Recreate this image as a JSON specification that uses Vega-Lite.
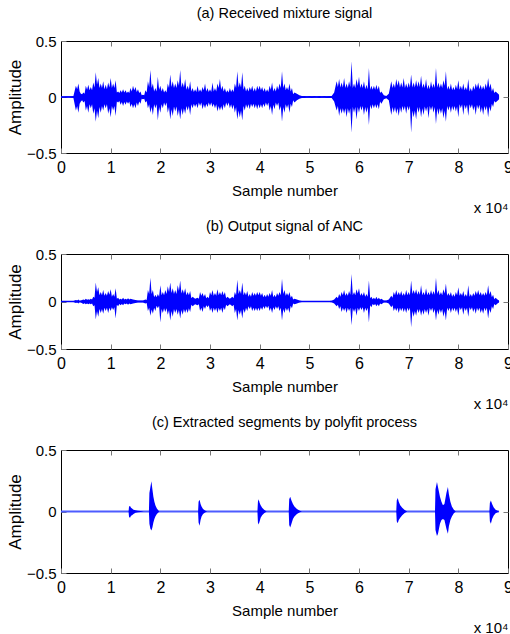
{
  "$schema": "https://vega.github.io/schema/vega-lite/v6.json",
  "background": "white",
  "padding": {"left": 5, "top": 5, "right": 0, "bottom": 0},
  "spacing": 2,
  "datasets": {
    "a": [
      {"s":0,"hi":0.005,"lo":-0.005},{"s":500,"hi":0.005,"lo":-0.005},{"s":1000,"hi":0.006,"lo":-0.006},{"s":1500,"hi":0.006,"lo":-0.005},{"s":2000,"hi":0.007,"lo":-0.006},{"s":2500,"hi":0.01,"lo":-0.01},
      {"s":3000,"hi":0.1,"lo":-0.12},{"s":3500,"hi":0.12,"lo":-0.14},{"s":4000,"hi":0.03,"lo":-0.04},{"s":4500,"hi":0.04,"lo":-0.05},{"s":5000,"hi":0.1,"lo":-0.12},{"s":5500,"hi":0.11,"lo":-0.14},
      {"s":6000,"hi":0.09,"lo":-0.1},{"s":6500,"hi":0.13,"lo":-0.15},{"s":7000,"hi":0.22,"lo":-0.22},{"s":7500,"hi":0.17,"lo":-0.19},{"s":8000,"hi":0.12,"lo":-0.14},{"s":8500,"hi":0.14,"lo":-0.12},
      {"s":9000,"hi":0.11,"lo":-0.1},{"s":9500,"hi":0.13,"lo":-0.15},{"s":10000,"hi":0.17,"lo":-0.18},{"s":10500,"hi":0.12,"lo":-0.12},{"s":11000,"hi":0.15,"lo":-0.17},{"s":11500,"hi":0.05,"lo":-0.05},
      {"s":12000,"hi":0.06,"lo":-0.07},{"s":12500,"hi":0.07,"lo":-0.08},{"s":13000,"hi":0.06,"lo":-0.07},{"s":13500,"hi":0.05,"lo":-0.06},{"s":14000,"hi":0.08,"lo":-0.09},{"s":14500,"hi":0.1,"lo":-0.1},
      {"s":15000,"hi":0.09,"lo":-0.1},{"s":15500,"hi":0.07,"lo":-0.08},{"s":16000,"hi":0.05,"lo":-0.06},{"s":16500,"hi":0.02,"lo":-0.02},{"s":17000,"hi":0.06,"lo":-0.05},{"s":17500,"hi":0.14,"lo":-0.1},
      {"s":18000,"hi":0.24,"lo":-0.14},{"s":18500,"hi":0.12,"lo":-0.16},{"s":19000,"hi":0.08,"lo":-0.1},{"s":19500,"hi":0.18,"lo":-0.21},{"s":20000,"hi":0.1,"lo":-0.14},{"s":20500,"hi":0.08,"lo":-0.1},
      {"s":21000,"hi":0.06,"lo":-0.08},{"s":21500,"hi":0.12,"lo":-0.14},{"s":22000,"hi":0.2,"lo":-0.2},{"s":22500,"hi":0.14,"lo":-0.17},{"s":23000,"hi":0.12,"lo":-0.13},{"s":23500,"hi":0.15,"lo":-0.17},
      {"s":24000,"hi":0.24,"lo":-0.2},{"s":24500,"hi":0.13,"lo":-0.16},{"s":25000,"hi":0.16,"lo":-0.15},{"s":25500,"hi":0.1,"lo":-0.12},{"s":26000,"hi":0.14,"lo":-0.16},{"s":26500,"hi":0.08,"lo":-0.1},
      {"s":27000,"hi":0.07,"lo":-0.09},{"s":27500,"hi":0.1,"lo":-0.1},{"s":28000,"hi":0.07,"lo":-0.08},{"s":28500,"hi":0.09,"lo":-0.11},{"s":29000,"hi":0.12,"lo":-0.1},{"s":29500,"hi":0.08,"lo":-0.09},
      {"s":30000,"hi":0.07,"lo":-0.08},{"s":30500,"hi":0.13,"lo":-0.09},{"s":31000,"hi":0.08,"lo":-0.1},{"s":31500,"hi":0.12,"lo":-0.13},{"s":32000,"hi":0.16,"lo":-0.12},{"s":32500,"hi":0.1,"lo":-0.12},
      {"s":33000,"hi":0.08,"lo":-0.1},{"s":33500,"hi":0.06,"lo":-0.08},{"s":34000,"hi":0.08,"lo":-0.1},{"s":34500,"hi":0.07,"lo":-0.11},{"s":35000,"hi":0.12,"lo":-0.14},{"s":35500,"hi":0.23,"lo":-0.2},
      {"s":36000,"hi":0.13,"lo":-0.18},{"s":36500,"hi":0.22,"lo":-0.21},{"s":37000,"hi":0.1,"lo":-0.12},{"s":37500,"hi":0.08,"lo":-0.1},{"s":38000,"hi":0.09,"lo":-0.11},{"s":38500,"hi":0.1,"lo":-0.09},
      {"s":39000,"hi":0.08,"lo":-0.1},{"s":39500,"hi":0.1,"lo":-0.11},{"s":40000,"hi":0.1,"lo":-0.1},{"s":40500,"hi":0.09,"lo":-0.1},{"s":41000,"hi":0.08,"lo":-0.09},{"s":41500,"hi":0.07,"lo":-0.08},
      {"s":42000,"hi":0.1,"lo":-0.12},{"s":42500,"hi":0.13,"lo":-0.16},{"s":43000,"hi":0.08,"lo":-0.11},{"s":43500,"hi":0.1,"lo":-0.08},{"s":44000,"hi":0.12,"lo":-0.12},{"s":44500,"hi":0.23,"lo":-0.22},
      {"s":45000,"hi":0.12,"lo":-0.14},{"s":45500,"hi":0.09,"lo":-0.1},{"s":46000,"hi":0.12,"lo":-0.14},{"s":46500,"hi":0.08,"lo":-0.09},{"s":47000,"hi":0.04,"lo":-0.05},{"s":47500,"hi":0.03,"lo":-0.03},
      {"s":48000,"hi":0.015,"lo":-0.015},{"s":48500,"hi":0.01,"lo":-0.01},{"s":49000,"hi":0.008,"lo":-0.008},{"s":49500,"hi":0.007,"lo":-0.007},{"s":50000,"hi":0.008,"lo":-0.007},{"s":50500,"hi":0.007,"lo":-0.008},
      {"s":51000,"hi":0.008,"lo":-0.007},{"s":51500,"hi":0.007,"lo":-0.007},{"s":52000,"hi":0.008,"lo":-0.008},{"s":52500,"hi":0.007,"lo":-0.007},{"s":53000,"hi":0.008,"lo":-0.007},{"s":53500,"hi":0.007,"lo":-0.008},
      {"s":54000,"hi":0.008,"lo":-0.008},{"s":54500,"hi":0.01,"lo":-0.01},{"s":55000,"hi":0.04,"lo":-0.04},{"s":55500,"hi":0.14,"lo":-0.12},{"s":56000,"hi":0.16,"lo":-0.17},{"s":56500,"hi":0.13,"lo":-0.15},
      {"s":57000,"hi":0.17,"lo":-0.15},{"s":57500,"hi":0.12,"lo":-0.18},{"s":58000,"hi":0.14,"lo":-0.15},{"s":58500,"hi":0.32,"lo":-0.32},{"s":59000,"hi":0.12,"lo":-0.14},{"s":59500,"hi":0.16,"lo":-0.2},
      {"s":60000,"hi":0.18,"lo":-0.14},{"s":60500,"hi":0.12,"lo":-0.12},{"s":61000,"hi":0.14,"lo":-0.16},{"s":61500,"hi":0.11,"lo":-0.14},{"s":62000,"hi":0.26,"lo":-0.25},{"s":62500,"hi":0.1,"lo":-0.11},
      {"s":63000,"hi":0.1,"lo":-0.1},{"s":63500,"hi":0.11,"lo":-0.1},{"s":64000,"hi":0.1,"lo":-0.11},{"s":64500,"hi":0.05,"lo":-0.06},{"s":65000,"hi":0.015,"lo":-0.02},{"s":65500,"hi":0.01,"lo":-0.012},
      {"s":66000,"hi":0.03,"lo":-0.03},{"s":66500,"hi":0.14,"lo":-0.16},{"s":67000,"hi":0.12,"lo":-0.14},{"s":67500,"hi":0.16,"lo":-0.15},{"s":68000,"hi":0.15,"lo":-0.17},{"s":68500,"hi":0.13,"lo":-0.14},
      {"s":69000,"hi":0.17,"lo":-0.12},{"s":69500,"hi":0.12,"lo":-0.15},{"s":70000,"hi":0.13,"lo":-0.12},{"s":70500,"hi":0.2,"lo":-0.32},{"s":71000,"hi":0.13,"lo":-0.18},{"s":71500,"hi":0.15,"lo":-0.2},
      {"s":72000,"hi":0.14,"lo":-0.14},{"s":72500,"hi":0.19,"lo":-0.18},{"s":73000,"hi":0.12,"lo":-0.16},{"s":73500,"hi":0.16,"lo":-0.13},{"s":74000,"hi":0.11,"lo":-0.19},{"s":74500,"hi":0.14,"lo":-0.12},
      {"s":75000,"hi":0.12,"lo":-0.14},{"s":75500,"hi":0.26,"lo":-0.24},{"s":76000,"hi":0.13,"lo":-0.16},{"s":76500,"hi":0.12,"lo":-0.15},{"s":77000,"hi":0.15,"lo":-0.19},{"s":77500,"hi":0.23,"lo":-0.22},
      {"s":78000,"hi":0.1,"lo":-0.12},{"s":78500,"hi":0.12,"lo":-0.14},{"s":79000,"hi":0.09,"lo":-0.12},{"s":79500,"hi":0.11,"lo":-0.13},{"s":80000,"hi":0.15,"lo":-0.18},{"s":80500,"hi":0.1,"lo":-0.1},
      {"s":81000,"hi":0.12,"lo":-0.16},{"s":81500,"hi":0.09,"lo":-0.11},{"s":82000,"hi":0.16,"lo":-0.17},{"s":82500,"hi":0.08,"lo":-0.1},{"s":83000,"hi":0.1,"lo":-0.12},{"s":83500,"hi":0.12,"lo":-0.16},
      {"s":84000,"hi":0.13,"lo":-0.11},{"s":84500,"hi":0.11,"lo":-0.14},{"s":85000,"hi":0.1,"lo":-0.16},{"s":85500,"hi":0.12,"lo":-0.12},{"s":86000,"hi":0.17,"lo":-0.18},{"s":86500,"hi":0.12,"lo":-0.13},
      {"s":87000,"hi":0.08,"lo":-0.09},{"s":87500,"hi":0.05,"lo":-0.05},{"s":88000,"hi":0.03,"lo":-0.03},{"s":88200,"hi":0.02,"lo":-0.02},
      {"s":3250,"hi":0.07,"lo":-0.08},{"s":3750,"hi":0.05,"lo":-0.06},{"s":4250,"hi":0.025,"lo":-0.03},{"s":4750,"hi":0.03,"lo":-0.035},{"s":5250,"hi":0.065,"lo":-0.08},{"s":5750,"hi":0.06,"lo":-0.065},
      {"s":6250,"hi":0.06,"lo":-0.065},{"s":6750,"hi":0.085,"lo":-0.1},{"s":7250,"hi":0.11,"lo":-0.12},{"s":7750,"hi":0.08,"lo":-0.09},{"s":8250,"hi":0.08,"lo":-0.08},{"s":8750,"hi":0.07,"lo":-0.065},
      {"s":9250,"hi":0.07,"lo":-0.065},{"s":9750,"hi":0.085,"lo":-0.1},{"s":10250,"hi":0.08,"lo":-0.08},{"s":10750,"hi":0.08,"lo":-0.08},{"s":11250,"hi":0.04,"lo":-0.04},{"s":11750,"hi":0.035,"lo":-0.035},
      {"s":12250,"hi":0.04,"lo":-0.045},{"s":12750,"hi":0.04,"lo":-0.045},{"s":13250,"hi":0.035,"lo":-0.04},{"s":13750,"hi":0.035,"lo":-0.04},{"s":14250,"hi":0.05,"lo":-0.06},{"s":14750,"hi":0.06,"lo":-0.065},
      {"s":15250,"hi":0.045,"lo":-0.05},{"s":15750,"hi":0.035,"lo":-0.04},{"s":16250,"hi":0.015,"lo":-0.015},{"s":16750,"hi":0.015,"lo":-0.015},{"s":17250,"hi":0.04,"lo":-0.035},{"s":17750,"hi":0.09,"lo":-0.065},
      {"s":18250,"hi":0.08,"lo":-0.09},{"s":18750,"hi":0.05,"lo":-0.065},{"s":19250,"hi":0.05,"lo":-0.065},{"s":19750,"hi":0.065,"lo":-0.09},{"s":20250,"hi":0.05,"lo":-0.065},{"s":20750,"hi":0.04,"lo":-0.05},
      {"s":21250,"hi":0.04,"lo":-0.05},{"s":21750,"hi":0.08,"lo":-0.09},{"s":22250,"hi":0.09,"lo":-0.11},{"s":22750,"hi":0.08,"lo":-0.085},{"s":23250,"hi":0.08,"lo":-0.085},{"s":23750,"hi":0.1,"lo":-0.11},
      {"s":24250,"hi":0.085,"lo":-0.1},{"s":24750,"hi":0.085,"lo":-0.1},{"s":25250,"hi":0.065,"lo":-0.08},{"s":25750,"hi":0.065,"lo":-0.08},{"s":26250,"hi":0.05,"lo":-0.065},{"s":26750,"hi":0.045,"lo":-0.06},
      {"s":27250,"hi":0.045,"lo":-0.06},{"s":27750,"hi":0.045,"lo":-0.05},{"s":28250,"hi":0.045,"lo":-0.05},{"s":28750,"hi":0.06,"lo":-0.065},{"s":29250,"hi":0.05,"lo":-0.06},{"s":29750,"hi":0.045,"lo":-0.05},
      {"s":30250,"hi":0.045,"lo":-0.05},{"s":30750,"hi":0.05,"lo":-0.06},{"s":31250,"hi":0.05,"lo":-0.065},{"s":31750,"hi":0.08,"lo":-0.08},{"s":32250,"hi":0.065,"lo":-0.08},{"s":32750,"hi":0.05,"lo":-0.065},
      {"s":33250,"hi":0.04,"lo":-0.05},{"s":33750,"hi":0.04,"lo":-0.05},{"s":34250,"hi":0.045,"lo":-0.065},{"s":34750,"hi":0.045,"lo":-0.07},{"s":35250,"hi":0.08,"lo":-0.09},{"s":35750,"hi":0.085,"lo":-0.12},
      {"s":36250,"hi":0.085,"lo":-0.12},{"s":36750,"hi":0.065,"lo":-0.08},{"s":37250,"hi":0.05,"lo":-0.065},{"s":37750,"hi":0.05,"lo":-0.065},{"s":38250,"hi":0.06,"lo":-0.06},{"s":38750,"hi":0.05,"lo":-0.06},
      {"s":39250,"hi":0.05,"lo":-0.065},{"s":39750,"hi":0.065,"lo":-0.065},{"s":40250,"hi":0.06,"lo":-0.065},{"s":40750,"hi":0.05,"lo":-0.06},{"s":41250,"hi":0.045,"lo":-0.05},{"s":41750,"hi":0.045,"lo":-0.05},
      {"s":42250,"hi":0.065,"lo":-0.08},{"s":42750,"hi":0.05,"lo":-0.07},{"s":43250,"hi":0.05,"lo":-0.05},{"s":43750,"hi":0.065,"lo":-0.05},{"s":44250,"hi":0.08,"lo":-0.08},{"s":44750,"hi":0.08,"lo":-0.09},
      {"s":45250,"hi":0.06,"lo":-0.065},{"s":45750,"hi":0.06,"lo":-0.065},{"s":46250,"hi":0.05,"lo":-0.06},{"s":46750,"hi":0.025,"lo":-0.03},
      {"s":55750,"hi":0.09,"lo":-0.08},{"s":56250,"hi":0.085,"lo":-0.1},{"s":56750,"hi":0.085,"lo":-0.1},{"s":57250,"hi":0.08,"lo":-0.1},{"s":57750,"hi":0.08,"lo":-0.1},{"s":58250,"hi":0.09,"lo":-0.1},
      {"s":58750,"hi":0.08,"lo":-0.09},{"s":59250,"hi":0.08,"lo":-0.09},{"s":59750,"hi":0.1,"lo":-0.09},{"s":60250,"hi":0.08,"lo":-0.08},{"s":60750,"hi":0.08,"lo":-0.08},{"s":61250,"hi":0.07,"lo":-0.09},
      {"s":61750,"hi":0.07,"lo":-0.09},{"s":62250,"hi":0.065,"lo":-0.07},{"s":62750,"hi":0.065,"lo":-0.065},{"s":63250,"hi":0.065,"lo":-0.065},{"s":63750,"hi":0.065,"lo":-0.065},{"s":64250,"hi":0.035,"lo":-0.04},
      {"s":66750,"hi":0.08,"lo":-0.09},{"s":67250,"hi":0.08,"lo":-0.09},{"s":67750,"hi":0.1,"lo":-0.1},{"s":68250,"hi":0.085,"lo":-0.09},{"s":68750,"hi":0.085,"lo":-0.08},{"s":69250,"hi":0.08,"lo":-0.08},
      {"s":69750,"hi":0.08,"lo":-0.08},{"s":70250,"hi":0.085,"lo":-0.08},{"s":70750,"hi":0.085,"lo":-0.12},{"s":71250,"hi":0.085,"lo":-0.12},{"s":71750,"hi":0.09,"lo":-0.09},{"s":72250,"hi":0.09,"lo":-0.09},
      {"s":72750,"hi":0.08,"lo":-0.1},{"s":73250,"hi":0.08,"lo":-0.085},{"s":73750,"hi":0.07,"lo":-0.085},{"s":74250,"hi":0.07,"lo":-0.08},{"s":74750,"hi":0.08,"lo":-0.08},{"s":75250,"hi":0.08,"lo":-0.09},
      {"s":75750,"hi":0.085,"lo":-0.1},{"s":76250,"hi":0.08,"lo":-0.1},{"s":76750,"hi":0.08,"lo":-0.1},{"s":77250,"hi":0.1,"lo":-0.12},{"s":77750,"hi":0.065,"lo":-0.08},{"s":78250,"hi":0.065,"lo":-0.08},
      {"s":78750,"hi":0.06,"lo":-0.08},{"s":79250,"hi":0.06,"lo":-0.08},{"s":79750,"hi":0.07,"lo":-0.085},{"s":80250,"hi":0.065,"lo":-0.065},{"s":80750,"hi":0.065,"lo":-0.065},{"s":81250,"hi":0.06,"lo":-0.07},
      {"s":81750,"hi":0.06,"lo":-0.07},{"s":82250,"hi":0.05,"lo":-0.065},{"s":82750,"hi":0.05,"lo":-0.065},{"s":83250,"hi":0.065,"lo":-0.08},{"s":83750,"hi":0.08,"lo":-0.07},{"s":84250,"hi":0.07,"lo":-0.07},
      {"s":84750,"hi":0.065,"lo":-0.09},{"s":85250,"hi":0.065,"lo":-0.08},{"s":85750,"hi":0.08,"lo":-0.08},{"s":86250,"hi":0.08,"lo":-0.085},{"s":86750,"hi":0.05,"lo":-0.06},{"s":87250,"hi":0.035,"lo":-0.035}
    ],
    "b": [
      {"s":0,"hi":0.004,"lo":-0.004},{"s":500,"hi":0.004,"lo":-0.004},{"s":1000,"hi":0.004,"lo":-0.004},{"s":1500,"hi":0.004,"lo":-0.004},{"s":2000,"hi":0.004,"lo":-0.004},{"s":2500,"hi":0.005,"lo":-0.005},
      {"s":3000,"hi":0.015,"lo":-0.015},{"s":3500,"hi":0.02,"lo":-0.02},{"s":4000,"hi":0.01,"lo":-0.01},{"s":4500,"hi":0.02,"lo":-0.025},{"s":5000,"hi":0.03,"lo":-0.03},{"s":5500,"hi":0.025,"lo":-0.03},
      {"s":6000,"hi":0.03,"lo":-0.03},{"s":6500,"hi":0.05,"lo":-0.05},{"s":7000,"hi":0.2,"lo":-0.19},{"s":7500,"hi":0.15,"lo":-0.16},{"s":8000,"hi":0.1,"lo":-0.12},{"s":8500,"hi":0.12,"lo":-0.13},
      {"s":9000,"hi":0.09,"lo":-0.1},{"s":9500,"hi":0.11,"lo":-0.12},{"s":10000,"hi":0.13,"lo":-0.1},{"s":10500,"hi":0.08,"lo":-0.09},{"s":11000,"hi":0.14,"lo":-0.18},{"s":11500,"hi":0.04,"lo":-0.05},
      {"s":12000,"hi":0.03,"lo":-0.04},{"s":12500,"hi":0.04,"lo":-0.04},{"s":13000,"hi":0.03,"lo":-0.03},{"s":13500,"hi":0.035,"lo":-0.035},{"s":14000,"hi":0.03,"lo":-0.03},{"s":14500,"hi":0.02,"lo":-0.02},
      {"s":15000,"hi":0.015,"lo":-0.015},{"s":15500,"hi":0.01,"lo":-0.01},{"s":16000,"hi":0.01,"lo":-0.01},{"s":16500,"hi":0.01,"lo":-0.01},{"s":17000,"hi":0.02,"lo":-0.02},{"s":17500,"hi":0.12,"lo":-0.1},
      {"s":18000,"hi":0.25,"lo":-0.15},{"s":18500,"hi":0.12,"lo":-0.13},{"s":19000,"hi":0.07,"lo":-0.1},{"s":19500,"hi":0.08,"lo":-0.07},{"s":20000,"hi":0.17,"lo":-0.22},{"s":20500,"hi":0.1,"lo":-0.12},
      {"s":21000,"hi":0.12,"lo":-0.11},{"s":21500,"hi":0.16,"lo":-0.14},{"s":22000,"hi":0.2,"lo":-0.2},{"s":22500,"hi":0.14,"lo":-0.16},{"s":23000,"hi":0.12,"lo":-0.12},{"s":23500,"hi":0.17,"lo":-0.14},
      {"s":24000,"hi":0.22,"lo":-0.18},{"s":24500,"hi":0.13,"lo":-0.14},{"s":25000,"hi":0.14,"lo":-0.12},{"s":25500,"hi":0.1,"lo":-0.12},{"s":26000,"hi":0.11,"lo":-0.11},{"s":26500,"hi":0.05,"lo":-0.05},
      {"s":27000,"hi":0.03,"lo":-0.03},{"s":27500,"hi":0.04,"lo":-0.04},{"s":28000,"hi":0.1,"lo":-0.1},{"s":28500,"hi":0.09,"lo":-0.11},{"s":29000,"hi":0.08,"lo":-0.08},{"s":29500,"hi":0.05,"lo":-0.06},
      {"s":30000,"hi":0.1,"lo":-0.1},{"s":30500,"hi":0.12,"lo":-0.12},{"s":31000,"hi":0.09,"lo":-0.1},{"s":31500,"hi":0.13,"lo":-0.12},{"s":32000,"hi":0.1,"lo":-0.1},{"s":32500,"hi":0.11,"lo":-0.12},
      {"s":33000,"hi":0.1,"lo":-0.09},{"s":33500,"hi":0.05,"lo":-0.05},{"s":34000,"hi":0.03,"lo":-0.03},{"s":34500,"hi":0.05,"lo":-0.05},{"s":35000,"hi":0.1,"lo":-0.12},{"s":35500,"hi":0.23,"lo":-0.2},
      {"s":36000,"hi":0.12,"lo":-0.14},{"s":36500,"hi":0.2,"lo":-0.18},{"s":37000,"hi":0.1,"lo":-0.12},{"s":37500,"hi":0.11,"lo":-0.1},{"s":38000,"hi":0.08,"lo":-0.08},{"s":38500,"hi":0.1,"lo":-0.1},
      {"s":39000,"hi":0.09,"lo":-0.1},{"s":39500,"hi":0.1,"lo":-0.1},{"s":40000,"hi":0.1,"lo":-0.1},{"s":40500,"hi":0.09,"lo":-0.09},{"s":41000,"hi":0.07,"lo":-0.08},{"s":41500,"hi":0.08,"lo":-0.07},
      {"s":42000,"hi":0.09,"lo":-0.1},{"s":42500,"hi":0.12,"lo":-0.12},{"s":43000,"hi":0.07,"lo":-0.09},{"s":43500,"hi":0.09,"lo":-0.08},{"s":44000,"hi":0.1,"lo":-0.1},{"s":44500,"hi":0.24,"lo":-0.2},
      {"s":45000,"hi":0.12,"lo":-0.12},{"s":45500,"hi":0.09,"lo":-0.1},{"s":46000,"hi":0.1,"lo":-0.12},{"s":46500,"hi":0.06,"lo":-0.07},{"s":47000,"hi":0.03,"lo":-0.03},{"s":47500,"hi":0.02,"lo":-0.02},
      {"s":48000,"hi":0.01,"lo":-0.01},{"s":48500,"hi":0.005,"lo":-0.005},{"s":49000,"hi":0.004,"lo":-0.004},{"s":50000,"hi":0.004,"lo":-0.004},{"s":51000,"hi":0.004,"lo":-0.004},{"s":52000,"hi":0.004,"lo":-0.004},
      {"s":53000,"hi":0.004,"lo":-0.004},{"s":54000,"hi":0.005,"lo":-0.005},{"s":54500,"hi":0.008,"lo":-0.008},{"s":55000,"hi":0.02,"lo":-0.02},{"s":55500,"hi":0.05,"lo":-0.05},{"s":56000,"hi":0.08,"lo":-0.08},
      {"s":56500,"hi":0.1,"lo":-0.11},{"s":57000,"hi":0.12,"lo":-0.1},{"s":57500,"hi":0.09,"lo":-0.12},{"s":58000,"hi":0.11,"lo":-0.1},{"s":58500,"hi":0.29,"lo":-0.25},{"s":59000,"hi":0.1,"lo":-0.11},
      {"s":59500,"hi":0.13,"lo":-0.15},{"s":60000,"hi":0.14,"lo":-0.1},{"s":60500,"hi":0.09,"lo":-0.09},{"s":61000,"hi":0.1,"lo":-0.12},{"s":61500,"hi":0.08,"lo":-0.1},{"s":62000,"hi":0.22,"lo":-0.22},
      {"s":62500,"hi":0.05,"lo":-0.06},{"s":63000,"hi":0.04,"lo":-0.04},{"s":63500,"hi":0.05,"lo":-0.05},{"s":64000,"hi":0.04,"lo":-0.05},{"s":64500,"hi":0.03,"lo":-0.03},{"s":65000,"hi":0.01,"lo":-0.01},
      {"s":65500,"hi":0.01,"lo":-0.01},{"s":66000,"hi":0.02,"lo":-0.02},{"s":66500,"hi":0.06,"lo":-0.06},{"s":67000,"hi":0.1,"lo":-0.1},{"s":67500,"hi":0.12,"lo":-0.1},{"s":68000,"hi":0.1,"lo":-0.12},
      {"s":68500,"hi":0.11,"lo":-0.1},{"s":69000,"hi":0.09,"lo":-0.11},{"s":69500,"hi":0.12,"lo":-0.12},{"s":70000,"hi":0.1,"lo":-0.1},{"s":70500,"hi":0.22,"lo":-0.27},{"s":71000,"hi":0.12,"lo":-0.16},
      {"s":71500,"hi":0.13,"lo":-0.15},{"s":72000,"hi":0.11,"lo":-0.12},{"s":72500,"hi":0.17,"lo":-0.15},{"s":73000,"hi":0.1,"lo":-0.14},{"s":73500,"hi":0.14,"lo":-0.12},{"s":74000,"hi":0.1,"lo":-0.15},
      {"s":74500,"hi":0.12,"lo":-0.1},{"s":75000,"hi":0.11,"lo":-0.12},{"s":75500,"hi":0.25,"lo":-0.2},{"s":76000,"hi":0.12,"lo":-0.14},{"s":76500,"hi":0.1,"lo":-0.12},{"s":77000,"hi":0.13,"lo":-0.16},
      {"s":77500,"hi":0.19,"lo":-0.2},{"s":78000,"hi":0.09,"lo":-0.1},{"s":78500,"hi":0.1,"lo":-0.12},{"s":79000,"hi":0.08,"lo":-0.1},{"s":79500,"hi":0.1,"lo":-0.11},{"s":80000,"hi":0.15,"lo":-0.15},
      {"s":80500,"hi":0.09,"lo":-0.09},{"s":81000,"hi":0.11,"lo":-0.14},{"s":81500,"hi":0.08,"lo":-0.1},{"s":82000,"hi":0.17,"lo":-0.16},{"s":82500,"hi":0.08,"lo":-0.09},{"s":83000,"hi":0.09,"lo":-0.11},
      {"s":83500,"hi":0.11,"lo":-0.13},{"s":84000,"hi":0.12,"lo":-0.1},{"s":84500,"hi":0.1,"lo":-0.12},{"s":85000,"hi":0.09,"lo":-0.13},{"s":85500,"hi":0.1,"lo":-0.1},{"s":86000,"hi":0.17,"lo":-0.18},
      {"s":86500,"hi":0.11,"lo":-0.12},{"s":87000,"hi":0.07,"lo":-0.08},{"s":87500,"hi":0.04,"lo":-0.04},{"s":88000,"hi":0.015,"lo":-0.015},{"s":88200,"hi":0.01,"lo":-0.01},
      {"s":3250,"hi":0.01,"lo":-0.01},{"s":3750,"hi":0.008,"lo":-0.008},{"s":4750,"hi":0.015,"lo":-0.018},{"s":5250,"hi":0.018,"lo":-0.02},{"s":5750,"hi":0.018,"lo":-0.02},{"s":6250,"hi":0.02,"lo":-0.02},
      {"s":6750,"hi":0.04,"lo":-0.04},{"s":7250,"hi":0.1,"lo":-0.1},{"s":7750,"hi":0.065,"lo":-0.08},{"s":8250,"hi":0.065,"lo":-0.08},{"s":8750,"hi":0.06,"lo":-0.065},{"s":9250,"hi":0.06,"lo":-0.065},
      {"s":9750,"hi":0.07,"lo":-0.065},{"s":10250,"hi":0.05,"lo":-0.06},{"s":10750,"hi":0.05,"lo":-0.06},{"s":11250,"hi":0.03,"lo":-0.035},{"s":11750,"hi":0.02,"lo":-0.025},{"s":12250,"hi":0.02,"lo":-0.025},
      {"s":12750,"hi":0.02,"lo":-0.02},{"s":13250,"hi":0.02,"lo":-0.02},{"s":13750,"hi":0.02,"lo":-0.02},{"s":17250,"hi":0.015,"lo":-0.015},{"s":17750,"hi":0.08,"lo":-0.065},{"s":18250,"hi":0.08,"lo":-0.085},
      {"s":18750,"hi":0.045,"lo":-0.065},{"s":19250,"hi":0.045,"lo":-0.045},{"s":19750,"hi":0.05,"lo":-0.045},{"s":20250,"hi":0.065,"lo":-0.08},{"s":20750,"hi":0.065,"lo":-0.07},{"s":21250,"hi":0.08,"lo":-0.07},
      {"s":21750,"hi":0.1,"lo":-0.09},{"s":22250,"hi":0.09,"lo":-0.1},{"s":22750,"hi":0.08,"lo":-0.08},{"s":23250,"hi":0.08,"lo":-0.08},{"s":23750,"hi":0.11,"lo":-0.09},{"s":24250,"hi":0.085,"lo":-0.09},
      {"s":24750,"hi":0.085,"lo":-0.08},{"s":25250,"hi":0.065,"lo":-0.08},{"s":25750,"hi":0.065,"lo":-0.07},{"s":26250,"hi":0.035,"lo":-0.035},{"s":27750,"hi":0.03,"lo":-0.03},{"s":28250,"hi":0.06,"lo":-0.065},
      {"s":28750,"hi":0.05,"lo":-0.05},{"s":29250,"hi":0.035,"lo":-0.04},{"s":29750,"hi":0.035,"lo":-0.04},{"s":30250,"hi":0.065,"lo":-0.065},{"s":30750,"hi":0.06,"lo":-0.065},{"s":31250,"hi":0.06,"lo":-0.065},
      {"s":31750,"hi":0.065,"lo":-0.065},{"s":32250,"hi":0.065,"lo":-0.065},{"s":32750,"hi":0.065,"lo":-0.06},{"s":33250,"hi":0.035,"lo":-0.035},{"s":34750,"hi":0.035,"lo":-0.035},{"s":35250,"hi":0.065,"lo":-0.08},
      {"s":35750,"hi":0.08,"lo":-0.09},{"s":36250,"hi":0.08,"lo":-0.09},{"s":36750,"hi":0.065,"lo":-0.08},{"s":37250,"hi":0.065,"lo":-0.065},{"s":37750,"hi":0.05,"lo":-0.05},{"s":38250,"hi":0.05,"lo":-0.05},
      {"s":38750,"hi":0.06,"lo":-0.065},{"s":39250,"hi":0.06,"lo":-0.065},{"s":39750,"hi":0.065,"lo":-0.065},{"s":40250,"hi":0.06,"lo":-0.06},{"s":40750,"hi":0.045,"lo":-0.05},{"s":41250,"hi":0.045,"lo":-0.045},
      {"s":41750,"hi":0.05,"lo":-0.045},{"s":42250,"hi":0.06,"lo":-0.065},{"s":42750,"hi":0.045,"lo":-0.06},{"s":43250,"hi":0.045,"lo":-0.05},{"s":43750,"hi":0.06,"lo":-0.05},{"s":44250,"hi":0.065,"lo":-0.065},
      {"s":44750,"hi":0.08,"lo":-0.08},{"s":45250,"hi":0.06,"lo":-0.065},{"s":45750,"hi":0.06,"lo":-0.065},{"s":46250,"hi":0.04,"lo":-0.045},{"s":46750,"hi":0.02,"lo":-0.02},
      {"s":55750,"hi":0.035,"lo":-0.035},{"s":56250,"hi":0.05,"lo":-0.05},{"s":56750,"hi":0.065,"lo":-0.065},{"s":57250,"hi":0.06,"lo":-0.065},{"s":57750,"hi":0.06,"lo":-0.065},{"s":58250,"hi":0.07,"lo":-0.065},
      {"s":58750,"hi":0.065,"lo":-0.07},{"s":59250,"hi":0.065,"lo":-0.07},{"s":59750,"hi":0.085,"lo":-0.065},{"s":60250,"hi":0.06,"lo":-0.06},{"s":60750,"hi":0.06,"lo":-0.06},{"s":61250,"hi":0.05,"lo":-0.065},
      {"s":61750,"hi":0.05,"lo":-0.065},{"s":62250,"hi":0.035,"lo":-0.04},{"s":62750,"hi":0.025,"lo":-0.025},{"s":63250,"hi":0.025,"lo":-0.025},{"s":63750,"hi":0.025,"lo":-0.03},{"s":64250,"hi":0.02,"lo":-0.02},
      {"s":66750,"hi":0.04,"lo":-0.04},{"s":67250,"hi":0.065,"lo":-0.065},{"s":67750,"hi":0.065,"lo":-0.065},{"s":68250,"hi":0.065,"lo":-0.065},{"s":68750,"hi":0.06,"lo":-0.065},{"s":69250,"hi":0.06,"lo":-0.07},
      {"s":69750,"hi":0.065,"lo":-0.065},{"s":70250,"hi":0.065,"lo":-0.065},{"s":70750,"hi":0.08,"lo":-0.1},{"s":71250,"hi":0.08,"lo":-0.1},{"s":71750,"hi":0.07,"lo":-0.08},{"s":72250,"hi":0.07,"lo":-0.08},
      {"s":72750,"hi":0.065,"lo":-0.09},{"s":73250,"hi":0.065,"lo":-0.08},{"s":73750,"hi":0.065,"lo":-0.08},{"s":74250,"hi":0.065,"lo":-0.065},{"s":74750,"hi":0.07,"lo":-0.065},{"s":75250,"hi":0.07,"lo":-0.08},
      {"s":75750,"hi":0.08,"lo":-0.09},{"s":76250,"hi":0.065,"lo":-0.08},{"s":76750,"hi":0.065,"lo":-0.08},{"s":77250,"hi":0.085,"lo":-0.1},{"s":77750,"hi":0.06,"lo":-0.065},{"s":78250,"hi":0.06,"lo":-0.065},
      {"s":78750,"hi":0.05,"lo":-0.065},{"s":79250,"hi":0.05,"lo":-0.065},{"s":79750,"hi":0.065,"lo":-0.07},{"s":80250,"hi":0.06,"lo":-0.06},{"s":80750,"hi":0.06,"lo":-0.06},{"s":81250,"hi":0.05,"lo":-0.065},
      {"s":81750,"hi":0.05,"lo":-0.065},{"s":82250,"hi":0.05,"lo":-0.06},{"s":82750,"hi":0.05,"lo":-0.06},{"s":83250,"hi":0.06,"lo":-0.07},{"s":83750,"hi":0.07,"lo":-0.065},{"s":84250,"hi":0.065,"lo":-0.065},
      {"s":84750,"hi":0.06,"lo":-0.08},{"s":85250,"hi":0.06,"lo":-0.065},{"s":85750,"hi":0.065,"lo":-0.065},{"s":86250,"hi":0.07,"lo":-0.08},{"s":86750,"hi":0.045,"lo":-0.05},{"s":87250,"hi":0.025,"lo":-0.025}
    ],
    "c": [
      {"s":0,"hi":0,"lo":0},{"s":13600,"hi":0,"lo":0},{"s":13700,"hi":0.04,"lo":-0.045},{"s":13900,"hi":0.045,"lo":-0.05},{"s":14100,"hi":0.03,"lo":-0.035},{"s":14300,"hi":0.025,"lo":-0.03},
      {"s":14600,"hi":0.015,"lo":-0.02},{"s":15000,"hi":0.01,"lo":-0.01},{"s":15500,"hi":0.006,"lo":-0.006},{"s":16000,"hi":0.004,"lo":-0.004},{"s":16700,"hi":0,"lo":0},
      {"s":17700,"hi":0,"lo":0},{"s":17800,"hi":0.15,"lo":-0.1},{"s":18000,"hi":0.2,"lo":-0.14},{"s":18200,"hi":0.245,"lo":-0.155},{"s":18400,"hi":0.18,"lo":-0.13},{"s":18600,"hi":0.12,"lo":-0.09},
      {"s":18800,"hi":0.08,"lo":-0.06},{"s":19000,"hi":0.05,"lo":-0.04},{"s":19300,"hi":0.025,"lo":-0.02},{"s":19700,"hi":0.005,"lo":-0.005},{"s":19800,"hi":0,"lo":0},
      {"s":27600,"hi":0,"lo":0},{"s":27700,"hi":0.08,"lo":-0.09},{"s":27900,"hi":0.095,"lo":-0.115},{"s":28100,"hi":0.06,"lo":-0.07},{"s":28300,"hi":0.04,"lo":-0.04},{"s":28600,"hi":0.02,"lo":-0.02},
      {"s":29000,"hi":0.008,"lo":-0.008},{"s":29400,"hi":0,"lo":0},
      {"s":39550,"hi":0,"lo":0},{"s":39650,"hi":0.08,"lo":-0.09},{"s":39800,"hi":0.1,"lo":-0.105},{"s":40000,"hi":0.07,"lo":-0.08},{"s":40200,"hi":0.05,"lo":-0.05},{"s":40500,"hi":0.03,"lo":-0.03},
      {"s":40900,"hi":0.015,"lo":-0.015},{"s":41400,"hi":0,"lo":0},
      {"s":45850,"hi":0,"lo":0},{"s":45950,"hi":0.1,"lo":-0.11},{"s":46150,"hi":0.12,"lo":-0.13},{"s":46400,"hi":0.09,"lo":-0.1},{"s":46700,"hi":0.06,"lo":-0.06},{"s":47000,"hi":0.04,"lo":-0.04},
      {"s":47500,"hi":0.02,"lo":-0.02},{"s":48000,"hi":0.008,"lo":-0.008},{"s":48500,"hi":0,"lo":0},
      {"s":67500,"hi":0,"lo":0},{"s":67600,"hi":0.09,"lo":-0.08},{"s":67800,"hi":0.11,"lo":-0.095},{"s":68000,"hi":0.08,"lo":-0.07},{"s":68300,"hi":0.05,"lo":-0.05},{"s":68700,"hi":0.03,"lo":-0.03},
      {"s":69200,"hi":0.012,"lo":-0.012},{"s":69700,"hi":0,"lo":0},
      {"s":75300,"hi":0,"lo":0},{"s":75400,"hi":0.18,"lo":-0.15},{"s":75700,"hi":0.24,"lo":-0.2},{"s":75900,"hi":0.2,"lo":-0.18},{"s":76100,"hi":0.16,"lo":-0.14},{"s":76300,"hi":0.12,"lo":-0.1},
      {"s":76600,"hi":0.08,"lo":-0.07},{"s":76900,"hi":0.05,"lo":-0.06},{"s":77200,"hi":0.06,"lo":-0.07},{"s":77600,"hi":0.15,"lo":-0.14},{"s":77900,"hi":0.2,"lo":-0.18},{"s":78100,"hi":0.14,"lo":-0.12},
      {"s":78400,"hi":0.08,"lo":-0.07},{"s":78700,"hi":0.04,"lo":-0.04},{"s":79100,"hi":0.015,"lo":-0.015},{"s":79500,"hi":0,"lo":0},
      {"s":86250,"hi":0,"lo":0},{"s":86350,"hi":0.07,"lo":-0.08},{"s":86550,"hi":0.09,"lo":-0.1},{"s":86800,"hi":0.06,"lo":-0.06},{"s":87100,"hi":0.035,"lo":-0.035},{"s":87500,"hi":0.015,"lo":-0.015},
      {"s":88100,"hi":0.003,"lo":-0.003},{"s":88200,"hi":0,"lo":0}
    ]
  },
  "vconcat": [
    {
      "title": "(a) Received mixture signal",
      "width": 447, "height": 112,
      "data": {"name": "a"},
      "layer": [
        {"mark": {"type": "area", "color": "#0000ff", "strokeWidth": 0},
         "encoding": {
           "x": {"field": "s", "type": "quantitative", "scale": {"domain": [0, 90000], "nice": false},
                 "axis": {"orient": "bottom", "title": "Sample number", "values": [0,10000,20000,30000,40000,50000,60000,70000,80000,90000], "labelExpr": "'' + (datum.value / 10000)"}},
           "y": {"field": "hi", "type": "quantitative", "scale": {"domain": [-0.5, 0.5], "nice": false},
                 "axis": {"orient": "left", "title": "Amplitude", "values": [-0.5, 0, 0.5], "labelExpr": "datum.value < 0 ? '\u22120.5' : (datum.value > 0 ? '0.5' : '0')"}},
           "y2": {"field": "lo"}}},
        {"mark": {"type": "line", "color": "#0000ff", "strokeWidth": 1.5},
         "encoding": {
           "x": {"field": "s", "type": "quantitative", "axis": {"orient": "top", "labels": false, "title": null, "values": [10000,20000,30000,40000,50000,60000,70000,80000]}},
           "y": {"datum": 0, "type": "quantitative", "axis": {"orient": "right", "labels": false, "title": null, "values": [0]}}}},
        {"mark": {"type": "point", "opacity": 0},
         "encoding": {
           "x": {"field": "s", "type": "quantitative", "axis": {"orient": "bottom", "labels": false, "ticks": false, "title": "x 10\u2074", "titleAnchor": "end", "titlePadding": 47}},
           "y": {"field": "hi", "type": "quantitative", "axis": null}}}
      ],
      "resolve": {"axis": {"x": "independent", "y": "independent"}}
    },
    {
      "title": "(b) Output signal of ANC",
      "width": 447, "height": 95,
      "data": {"name": "b"},
      "layer": [
        {"mark": {"type": "area", "color": "#0000ff", "strokeWidth": 0},
         "encoding": {
           "x": {"field": "s", "type": "quantitative", "scale": {"domain": [0, 90000], "nice": false},
                 "axis": {"orient": "bottom", "title": "Sample number", "values": [0,10000,20000,30000,40000,50000,60000,70000,80000,90000], "labelExpr": "'' + (datum.value / 10000)"}},
           "y": {"field": "hi", "type": "quantitative", "scale": {"domain": [-0.5, 0.5], "nice": false},
                 "axis": {"orient": "left", "title": "Amplitude", "values": [-0.5, 0, 0.5], "labelExpr": "datum.value < 0 ? '\u22120.5' : (datum.value > 0 ? '0.5' : '0')"}},
           "y2": {"field": "lo"}}},
        {"mark": {"type": "line", "color": "#0000ff", "strokeWidth": 1.5},
         "encoding": {
           "x": {"field": "s", "type": "quantitative", "axis": {"orient": "top", "labels": false, "title": null, "values": [10000,20000,30000,40000,50000,60000,70000,80000]}},
           "y": {"datum": 0, "type": "quantitative", "axis": {"orient": "right", "labels": false, "title": null, "values": [0]}}}},
        {"mark": {"type": "point", "opacity": 0},
         "encoding": {
           "x": {"field": "s", "type": "quantitative", "axis": {"orient": "bottom", "labels": false, "ticks": false, "title": "x 10\u2074", "titleAnchor": "end", "titlePadding": 47}},
           "y": {"field": "hi", "type": "quantitative", "axis": null}}}
      ],
      "resolve": {"axis": {"x": "independent", "y": "independent"}}
    },
    {
      "title": "(c) Extracted segments by polyfit process",
      "width": 447, "height": 123,
      "data": {"name": "c"},
      "layer": [
        {"mark": {"type": "line", "color": "#4d5cff", "strokeWidth": 1.8},
         "encoding": {
           "x": {"field": "s", "type": "quantitative", "scale": {"domain": [0, 90000], "nice": false},
                 "axis": {"orient": "top", "labels": false, "title": null, "values": [10000,20000,30000,40000,50000,60000,70000,80000]}},
           "y": {"datum": 0, "type": "quantitative", "scale": {"domain": [-0.5, 0.5], "nice": false},
                 "axis": {"orient": "right", "labels": false, "title": null, "values": [0]}}}},
        {"mark": {"type": "area", "color": "#0000ff", "strokeWidth": 0},
         "encoding": {
           "x": {"field": "s", "type": "quantitative",
                 "axis": {"orient": "bottom", "title": "Sample number", "values": [0,10000,20000,30000,40000,50000,60000,70000,80000,90000], "labelExpr": "'' + (datum.value / 10000)"}},
           "y": {"field": "hi", "type": "quantitative",
                 "axis": {"orient": "left", "title": "Amplitude", "values": [-0.5, 0, 0.5], "labelExpr": "datum.value < 0 ? '\u22120.5' : (datum.value > 0 ? '0.5' : '0')"}},
           "y2": {"field": "lo"}}},
        {"mark": {"type": "point", "opacity": 0},
         "encoding": {
           "x": {"field": "s", "type": "quantitative", "axis": {"orient": "bottom", "labels": false, "ticks": false, "title": "x 10\u2074", "titleAnchor": "end", "titlePadding": 47}},
           "y": {"field": "hi", "type": "quantitative", "axis": null}}}
      ],
      "resolve": {"axis": {"x": "independent", "y": "independent"}}
    }
  ],
  "config": {
    "font": "Liberation Sans",
    "view": {"stroke": "black", "strokeWidth": 1},
    "axis": {"domain": false, "grid": false, "tickSize": -5, "tickColor": "#777777", "tickWidth": 1,
             "labelFont": "Liberation Sans", "labelFontSize": 15, "labelColor": "black", "labelPadding": 11, "labelFlush": false, "labelOverlap": false,
             "titleFont": "Liberation Sans", "titleFontSize": 15, "titleFontWeight": "normal", "titleColor": "black", "titlePadding": 8},
    "axisX": {"labelFontSize": 16},
    "axisY": {"titleFontSize": 17, "titlePadding": 2, "labelPadding": 10},
    "title": {"font": "Liberation Sans", "fontSize": 14.5, "fontWeight": "normal", "color": "black", "offset": 13}
  }
}
